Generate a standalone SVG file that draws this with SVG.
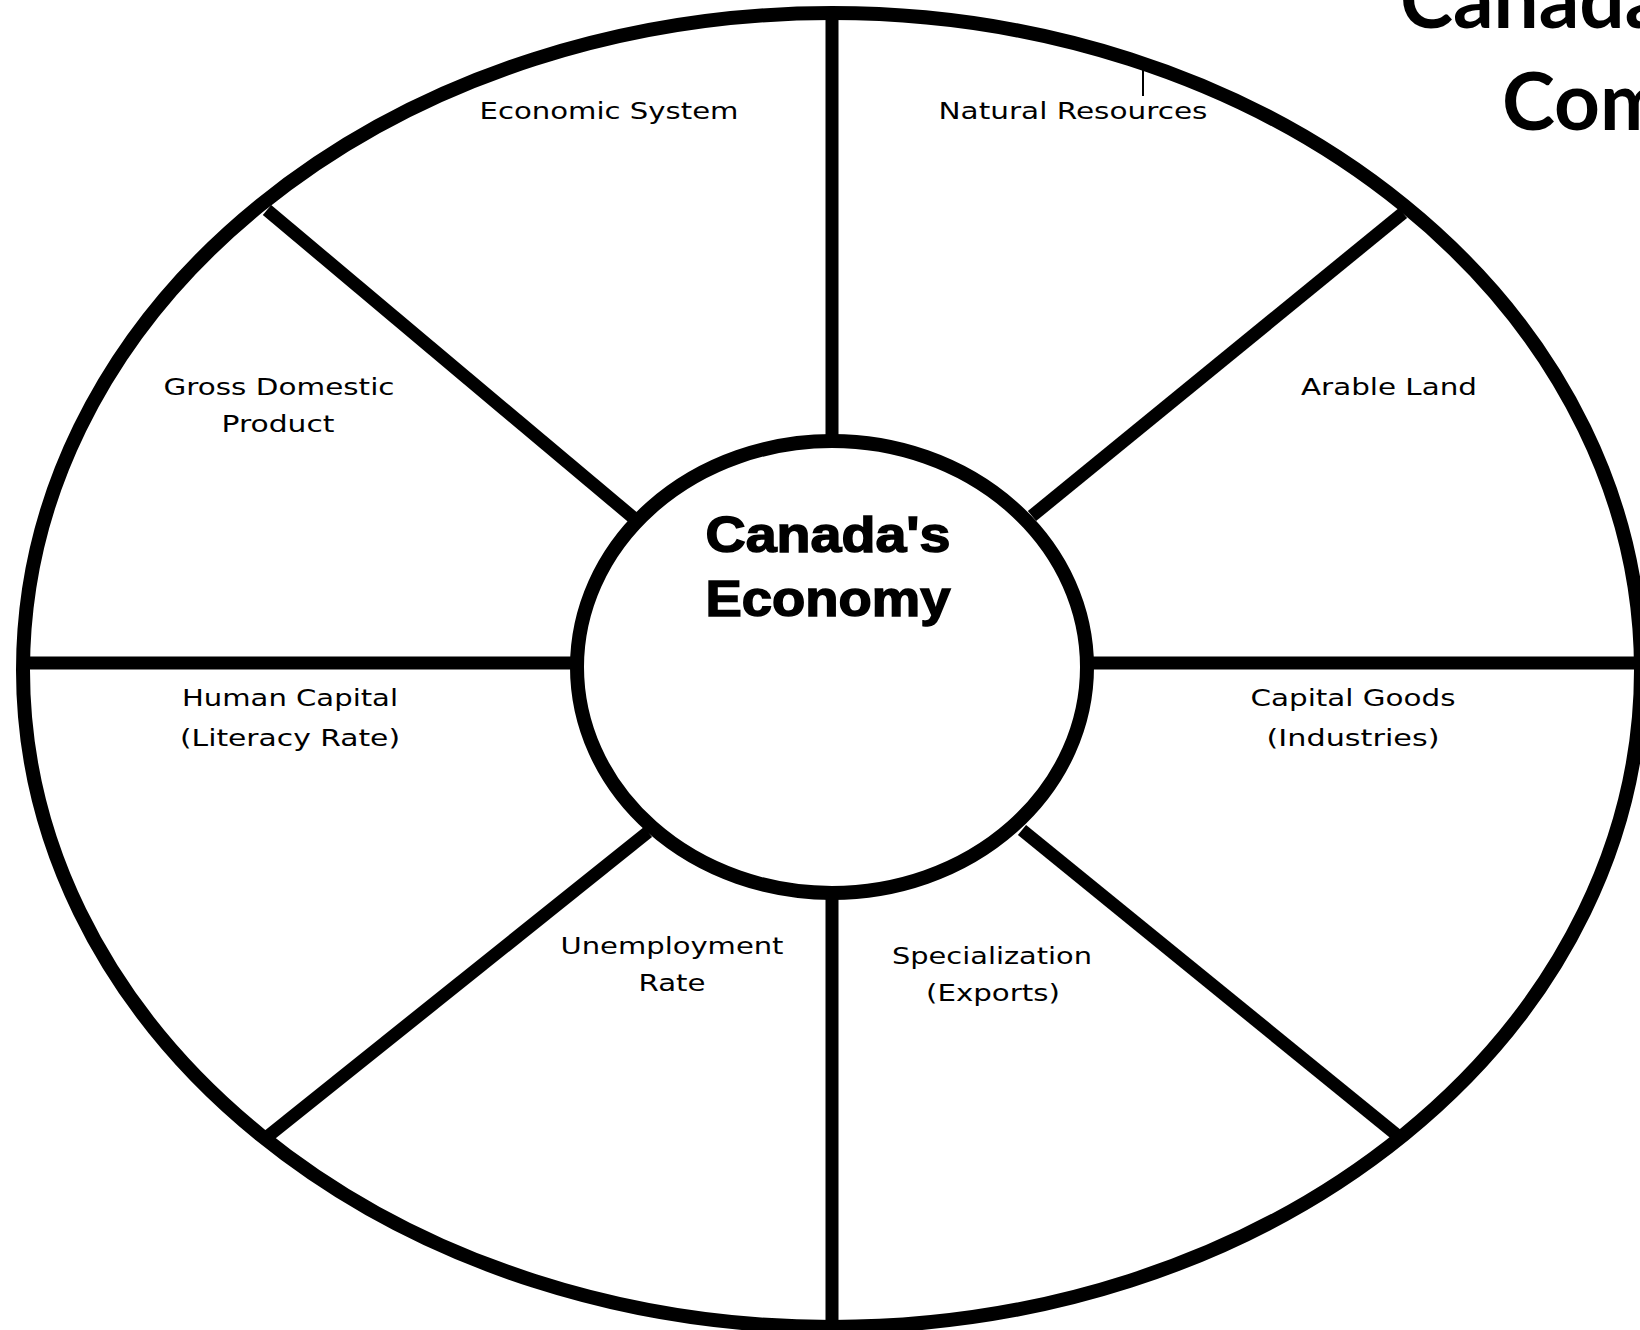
<svg xmlns="http://www.w3.org/2000/svg" width="1640" height="1330" viewBox="0 0 1640 1330">
<style>
.ln{stroke:#000;stroke-width:13;fill:none;stroke-linecap:butt}
.ring{stroke:#000;stroke-width:14;fill:none}
.lbl{font-family:"DejaVu Sans","Liberation Sans",sans-serif;font-size:23px;fill:#000;text-anchor:middle}
.ctr{font-family:"Liberation Sans","Arial",sans-serif;font-weight:bold;font-size:50px;fill:#000;stroke:#000;stroke-width:1.5;text-anchor:middle}
.ttl{font-family:Lato,"Liberation Sans",sans-serif;font-weight:bold;font-size:80px;fill:#000}
</style>
<rect width="1640" height="1330" fill="#fff"/>
<g id="connectors">
<ellipse class="ring" cx="832" cy="670" rx="809" ry="657"/>
<line class="ln" x1="832" y1="14" x2="832" y2="441"/>
<line class="ln" x1="832" y1="893" x2="832" y2="1330"/>
<line class="ln" x1="24" y1="663" x2="577" y2="663"/>
<line class="ln" x1="1087" y1="663" x2="1640" y2="663"/>
<line class="ln" x1="267" y1="210" x2="636" y2="520"/>
<line class="ln" x1="1403" y1="213" x2="1032" y2="516"/>
<line class="ln" x1="267" y1="1137" x2="648" y2="832"/>
<line class="ln" x1="1403" y1="1140" x2="1022" y2="830"/>
<line x1="1143" y1="68" x2="1143" y2="96" stroke="#000" stroke-width="2"/>
</g>
<g id="center">
<ellipse cx="832" cy="667" rx="255" ry="226" fill="#fff" class="ring"/>
<text class="ctr" x="828" y="552" textLength="245" lengthAdjust="spacingAndGlyphs">Canada's</text>
<text class="ctr" x="828" y="616" textLength="245" lengthAdjust="spacingAndGlyphs">Economy</text>
</g>
<g id="economic-system"><text class="lbl" x="609" y="119" textLength="259" lengthAdjust="spacingAndGlyphs">Economic System</text></g>
<g id="natural-resources"><text class="lbl" x="1073" y="119" textLength="269" lengthAdjust="spacingAndGlyphs">Natural Resources</text></g>
<g id="gdp"><text class="lbl" x="279" y="395" textLength="231" lengthAdjust="spacingAndGlyphs">Gross Domestic</text><text class="lbl" x="278" y="432" textLength="113" lengthAdjust="spacingAndGlyphs">Product</text></g>
<g id="arable-land"><text class="lbl" x="1389" y="395" textLength="176" lengthAdjust="spacingAndGlyphs">Arable Land</text></g>
<g id="human-capital"><text class="lbl" x="290" y="706" textLength="216" lengthAdjust="spacingAndGlyphs">Human Capital</text><text class="lbl" x="290" y="746" textLength="220" lengthAdjust="spacingAndGlyphs">(Literacy Rate)</text></g>
<g id="capital-goods"><text class="lbl" x="1353" y="706" textLength="205" lengthAdjust="spacingAndGlyphs">Capital Goods</text><text class="lbl" x="1353" y="746" textLength="173" lengthAdjust="spacingAndGlyphs">(Industries)</text></g>
<g id="unemployment"><text class="lbl" x="672" y="954" textLength="223" lengthAdjust="spacingAndGlyphs">Unemployment</text><text class="lbl" x="672" y="991" textLength="67" lengthAdjust="spacingAndGlyphs">Rate</text></g>
<g id="specialization"><text class="lbl" x="992" y="964" textLength="200" lengthAdjust="spacingAndGlyphs">Specialization</text><text class="lbl" x="993" y="1001" textLength="134" lengthAdjust="spacingAndGlyphs">(Exports)</text></g>
<g id="title"><text class="ttl" x="1400" y="28">Canada's</text><text class="ttl" x="1502" y="130">Com</text></g>
</svg>
